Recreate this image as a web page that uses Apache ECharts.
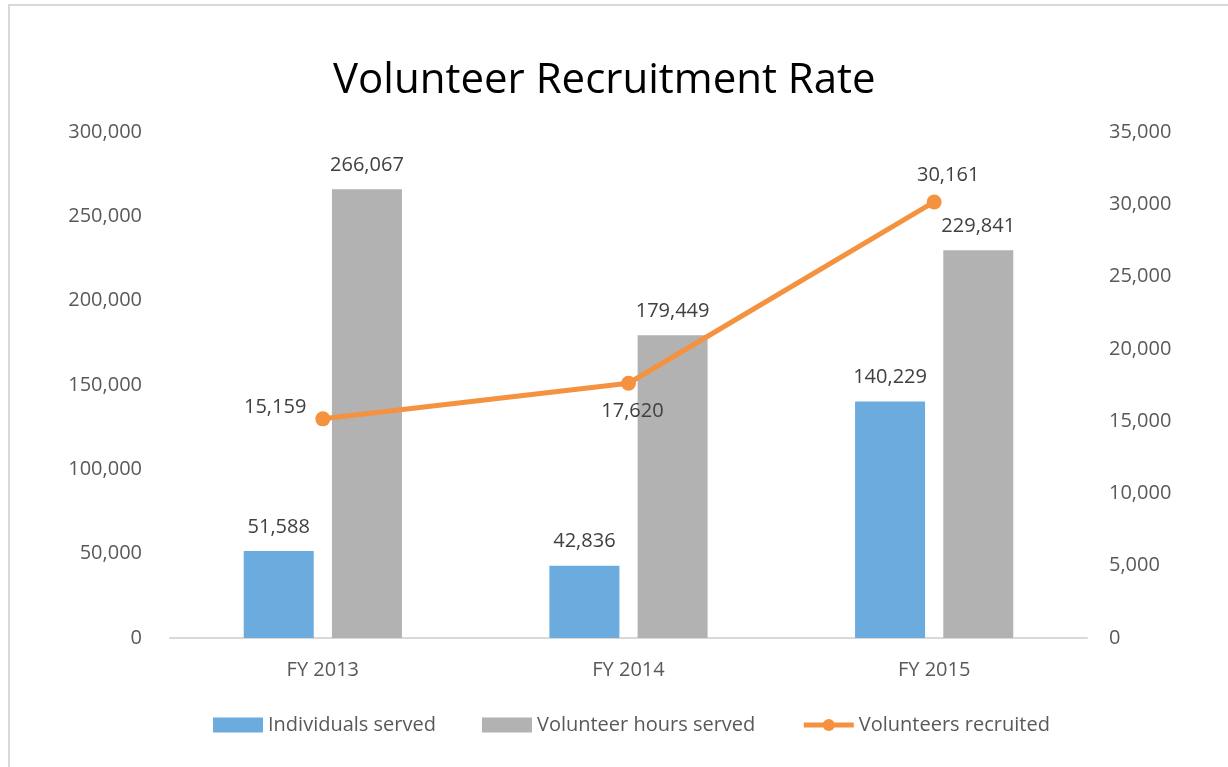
<!DOCTYPE html>
<html>
<head>
<meta charset="utf-8">
<script src="https://cdn.jsdelivr.net/npm/echarts@6/dist/echarts.min.js"></script>
<style>
  html, body { margin: 0; padding: 0; background: #fff; }
  #frame { position: absolute; left: 8px; top: 4px; width: 1240px; height: 780px;
           border-left: 2px solid #d9d9d9; border-top: 2px solid #d9d9d9; }
  #chart { position: absolute; left: 0; top: 0; width: 1228px; height: 767px; }
</style>
</head>
<body>
<div id="frame"></div>
<div id="chart"></div>
<script>
// data
var categories = ['FY 2013', 'FY 2014', 'FY 2015'];
var individualsServed = [51588, 42836, 140229];
var volunteerHours = [266067, 179449, 229841];
var volunteersRecruited = [15159, 17620, 30161];

var FONT = '"Open Sans", "Noto Sans", sans-serif';
var FS = 20;

function fmt(v) {
    return v.toLocaleString('en-US');
}

// per-point label placement for the line
var lineLabels = [
    { position: 'left', offset: [-4, -12] },
    { position: 'bottom', offset: [4, 6] },
    { position: 'top', offset: [14, -4] }
];

var lineData = volunteersRecruited.map(function (v, i) {
    return { value: v, label: lineLabels[i] };
});

var chart = echarts.init(document.getElementById('chart'));

var option = {
    animation: false,
    title: {
        text: 'Volunteer Recruitment Rate',
        left: 328,
        top: 55,
        textStyle: { fontFamily: FONT, fontSize: 42, fontWeight: 'normal', color: '#000' }
    },
    legend: {
        bottom: 27,
        left: 208,
        itemWidth: 50,
        itemHeight: 15,
        itemGap: 46,
        textStyle: { fontFamily: FONT, fontSize: FS, color: '#595959' },
        lineStyle: { width: 5 },
        data: [
            { name: 'Individuals served', icon: 'rect' },
            { name: 'Volunteer hours served', icon: 'rect' },
            { name: 'Volunteers recruited' }
        ]
    },
    grid: { left: 170, right: 141, top: 132, bottom: 129 },
    xAxis: {
        type: 'category',
        data: categories,
        axisLine: { lineStyle: { color: '#d9d9d9', width: 2 } },
        axisTick: { show: false },
        axisLabel: { fontFamily: FONT, fontSize: FS, color: '#595959', margin: 22 }
    },
    yAxis: [
        {
            type: 'value', min: 0, max: 300000, interval: 50000,
            splitLine: { show: false },
            axisLine: { show: false },
            axisLabel: { fontFamily: FONT, fontSize: FS, color: '#595959', margin: 28, formatter: fmt }
        },
        {
            type: 'value', min: 0, max: 35000, interval: 5000,
            splitLine: { show: false },
            axisLine: { show: false },
            axisLabel: { fontFamily: FONT, fontSize: FS, color: '#595959', margin: 22, formatter: fmt }
        }
    ],
    series: [
        {
            name: 'Individuals served',
            type: 'bar',
            data: individualsServed,
            barWidth: 70,
            barGap: '26%',
            itemStyle: { color: '#6cabdd' },
            label: {
                show: true, position: 'top', distance: 14,
                fontFamily: FONT, fontSize: FS, color: '#404040',
                formatter: function (p) { return fmt(p.value); }
            }
        },
        {
            name: 'Volunteer hours served',
            type: 'bar',
            data: volunteerHours,
            barWidth: 70,
            itemStyle: { color: '#b2b2b2' },
            label: {
                show: true, position: 'top', distance: 14,
                fontFamily: FONT, fontSize: FS, color: '#404040',
                formatter: function (p) { return fmt(p.value); }
            }
        },
        {
            name: 'Volunteers recruited',
            type: 'line',
            yAxisIndex: 1,
            data: lineData,
            symbol: 'circle',
            symbolSize: 15,
            lineStyle: { color: '#f4923f', width: 5 },
            itemStyle: { color: '#f4923f' },
            label: {
                show: true,
                fontFamily: FONT, fontSize: FS, color: '#404040',
                formatter: function (p) { return fmt(p.value); }
            }
        }
    ]
};

chart.setOption(option);
</script>
</body>
</html>
